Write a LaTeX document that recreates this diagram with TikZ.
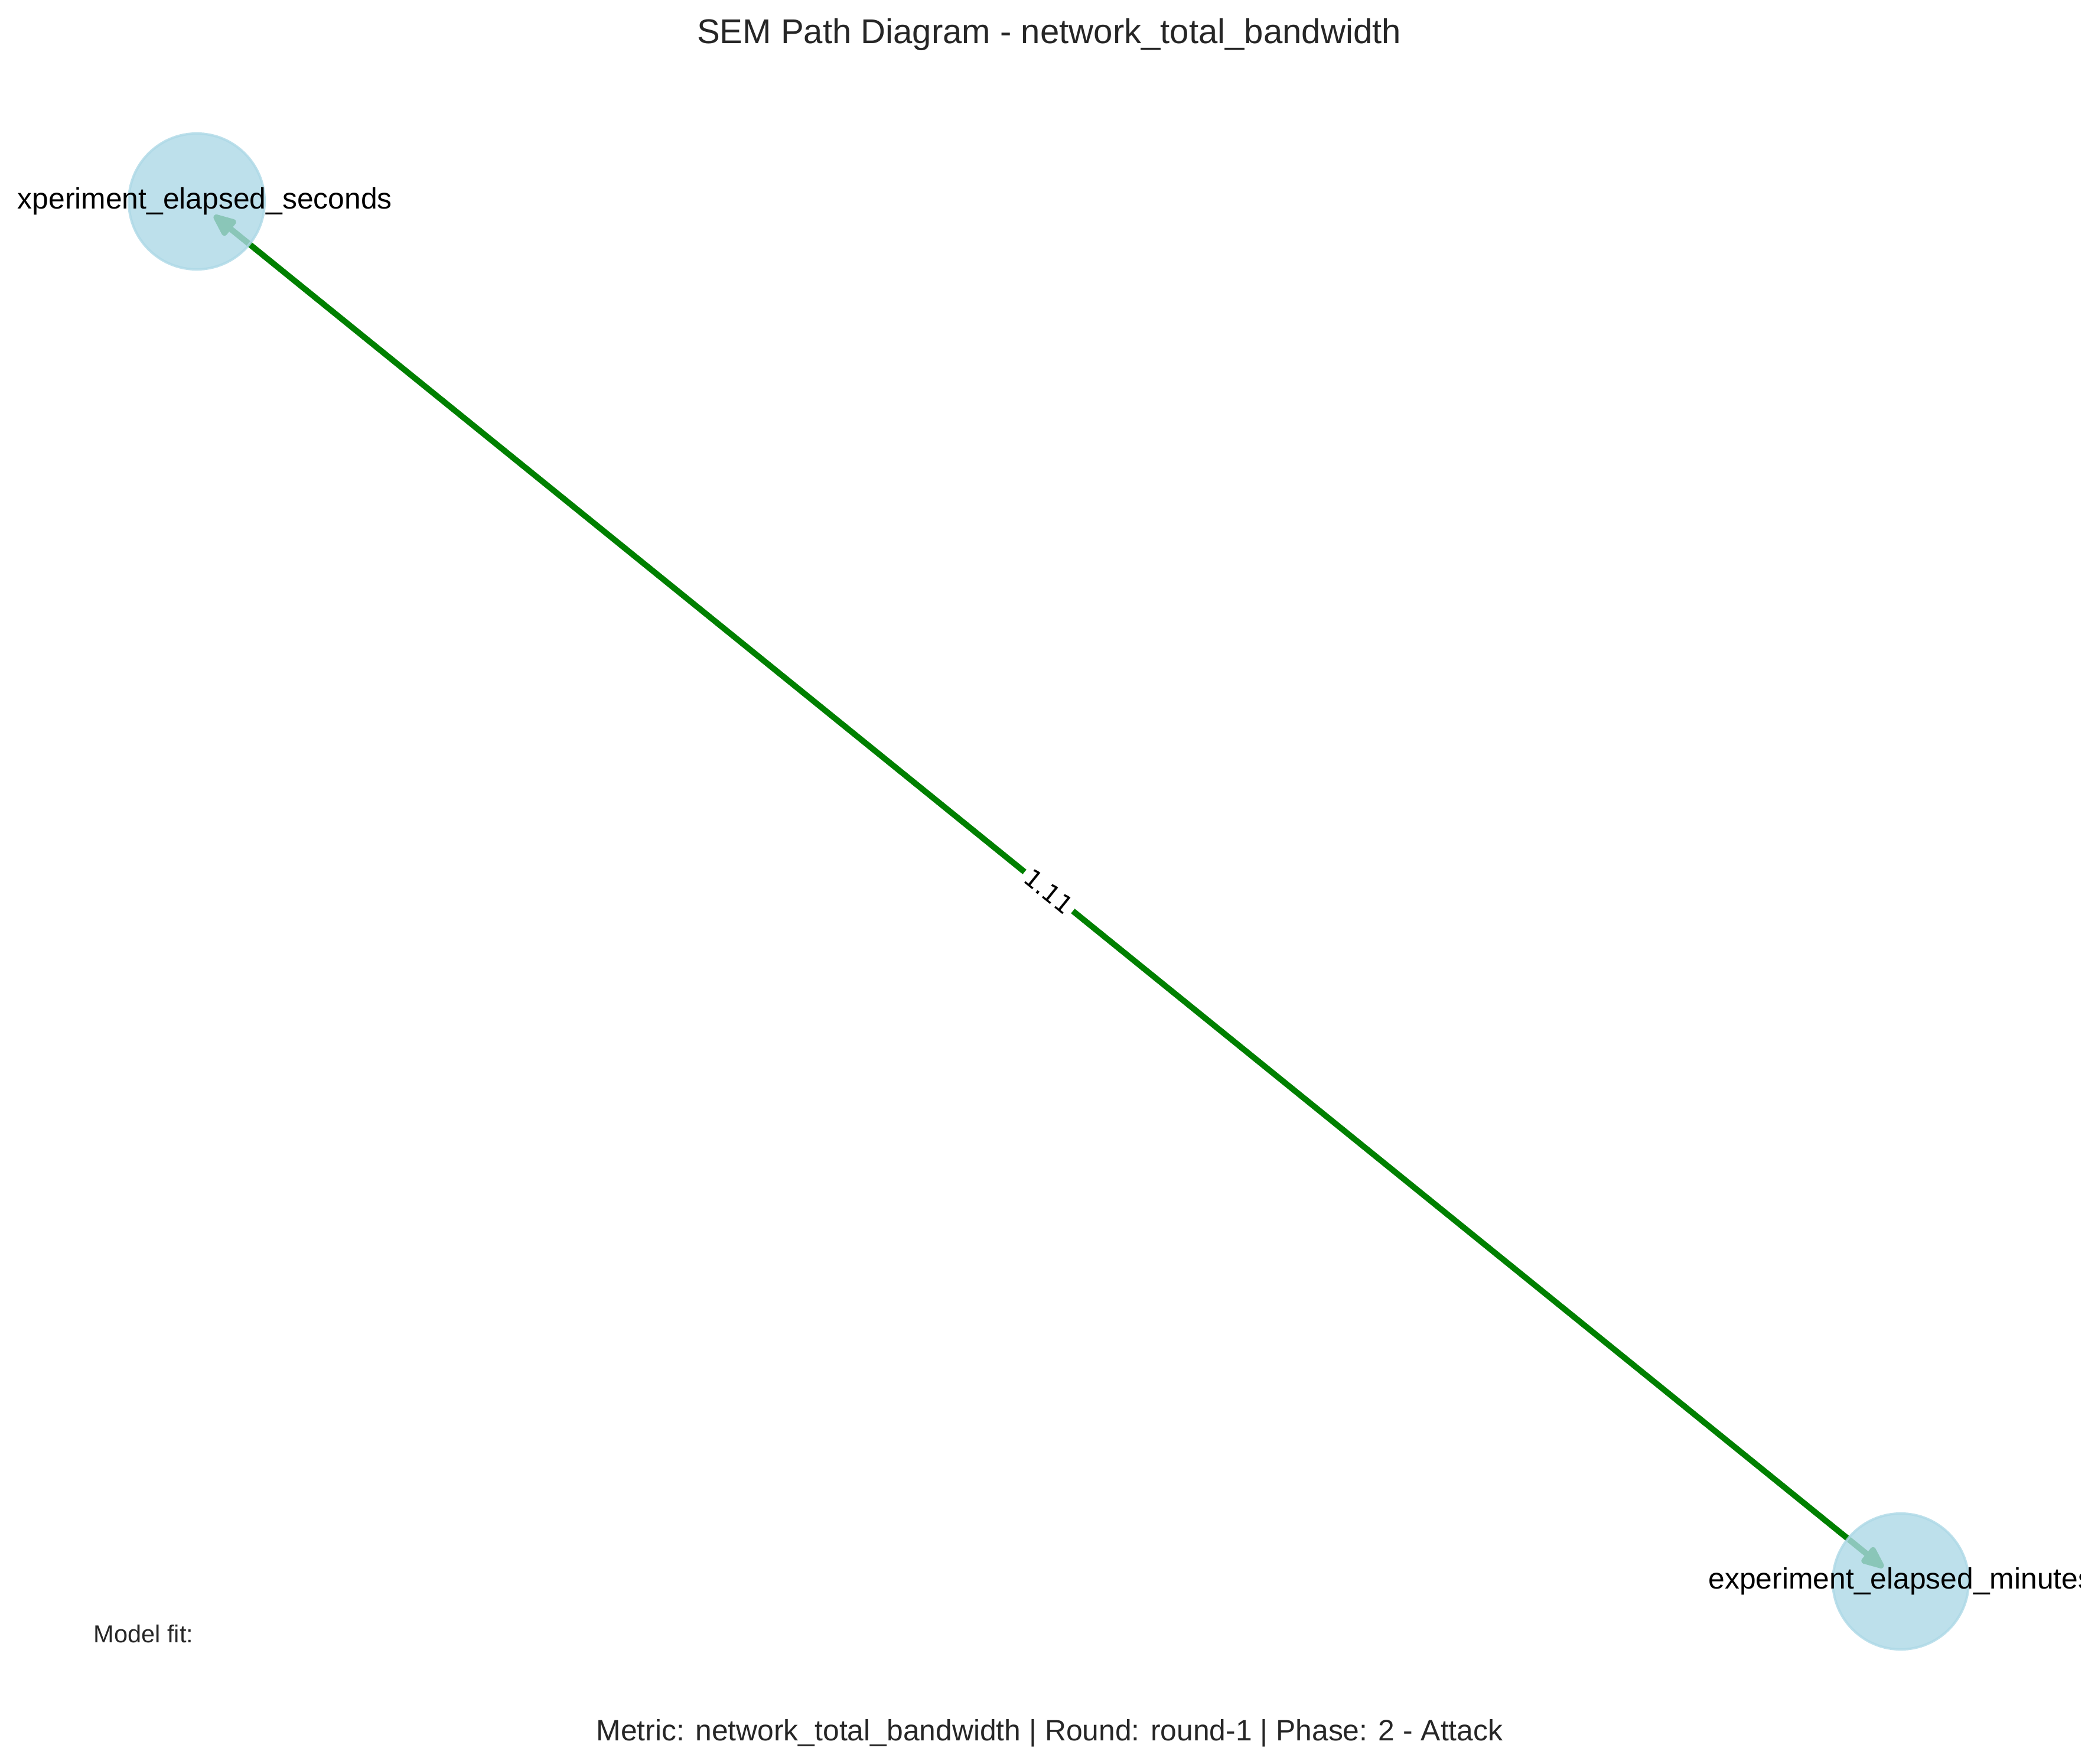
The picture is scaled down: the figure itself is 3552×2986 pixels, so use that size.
\documentclass[tikz,border=0pt]{standalone}
\usepackage{fontspec}
\setmainfont{Liberation Sans}
\newfontfamily\weightfont{DejaVu Sans}
\usepackage{tikz}
\usetikzlibrary{positioning, arrows.meta, backgrounds}
\definecolor{pathgreen}{HTML}{008000}
\definecolor{varblue}{HTML}{ADD8E6}
\definecolor{textgray}{HTML}{262626}

\begin{document}
\begin{tikzpicture}[x=0.24bp, y=-0.24bp, >={Triangle[length=11bp, width=8.5bp, round]},
    varnode/.style={circle, minimum size=55.2bp, inner sep=0pt, fill=varblue, fill opacity=0.8, draw=varblue, draw opacity=0.8, line width=1bp},
    varlabel/.style={font=\fontsize{12}{14}\selectfont, text=black, inner sep=0pt},
    pathedge/.style={<->, draw=pathgreen, line width=2.4bp, shorten <=9.1bp, shorten >=9.1bp},
    weight/.style={sloped, fill=white, inner sep=1.5bp, font=\weightfont\fontsize{10}{12}\selectfont, text=black},
    plaintext/.style={inner sep=0pt, text=textgray}]
                \useasboundingbox (0,0) rectangle (3552,2986);
                \clip (0,0) rectangle (3552,2986);

                \node[plaintext, anchor=base, font=\fontsize{14}{17}\selectfont] (title) at (1776,74) {SEM Path Diagram - network\_total\_bandwidth};

                \begin{scope}
                \clip (29,0) rectangle (3522,2986);
                \node[varnode, label={[varlabel]center:experiment\_elapsed\_seconds}] (secs) at (333,341) {};
                \node[varnode, label={[varlabel]center:experiment\_elapsed\_minutes}] (mins) at (3218,2677) {};
                \end{scope}

                \begin{scope}[on background layer]
                \draw[pathedge] (secs.center) -- node[weight] {1.11} (mins.center);
                \end{scope}

                \node[plaintext, anchor=base west, font=\fontsize{10}{12}\selectfont] (fit) at (158,2780) {Model fit:};
                \node[plaintext, anchor=base, font=\fontsize{12}{14}\selectfont] (footer) at (1777,2946) {Metric: network\_total\_bandwidth | Round: round-1 | Phase: 2 - Attack};
            \end{tikzpicture}
\end{document}
